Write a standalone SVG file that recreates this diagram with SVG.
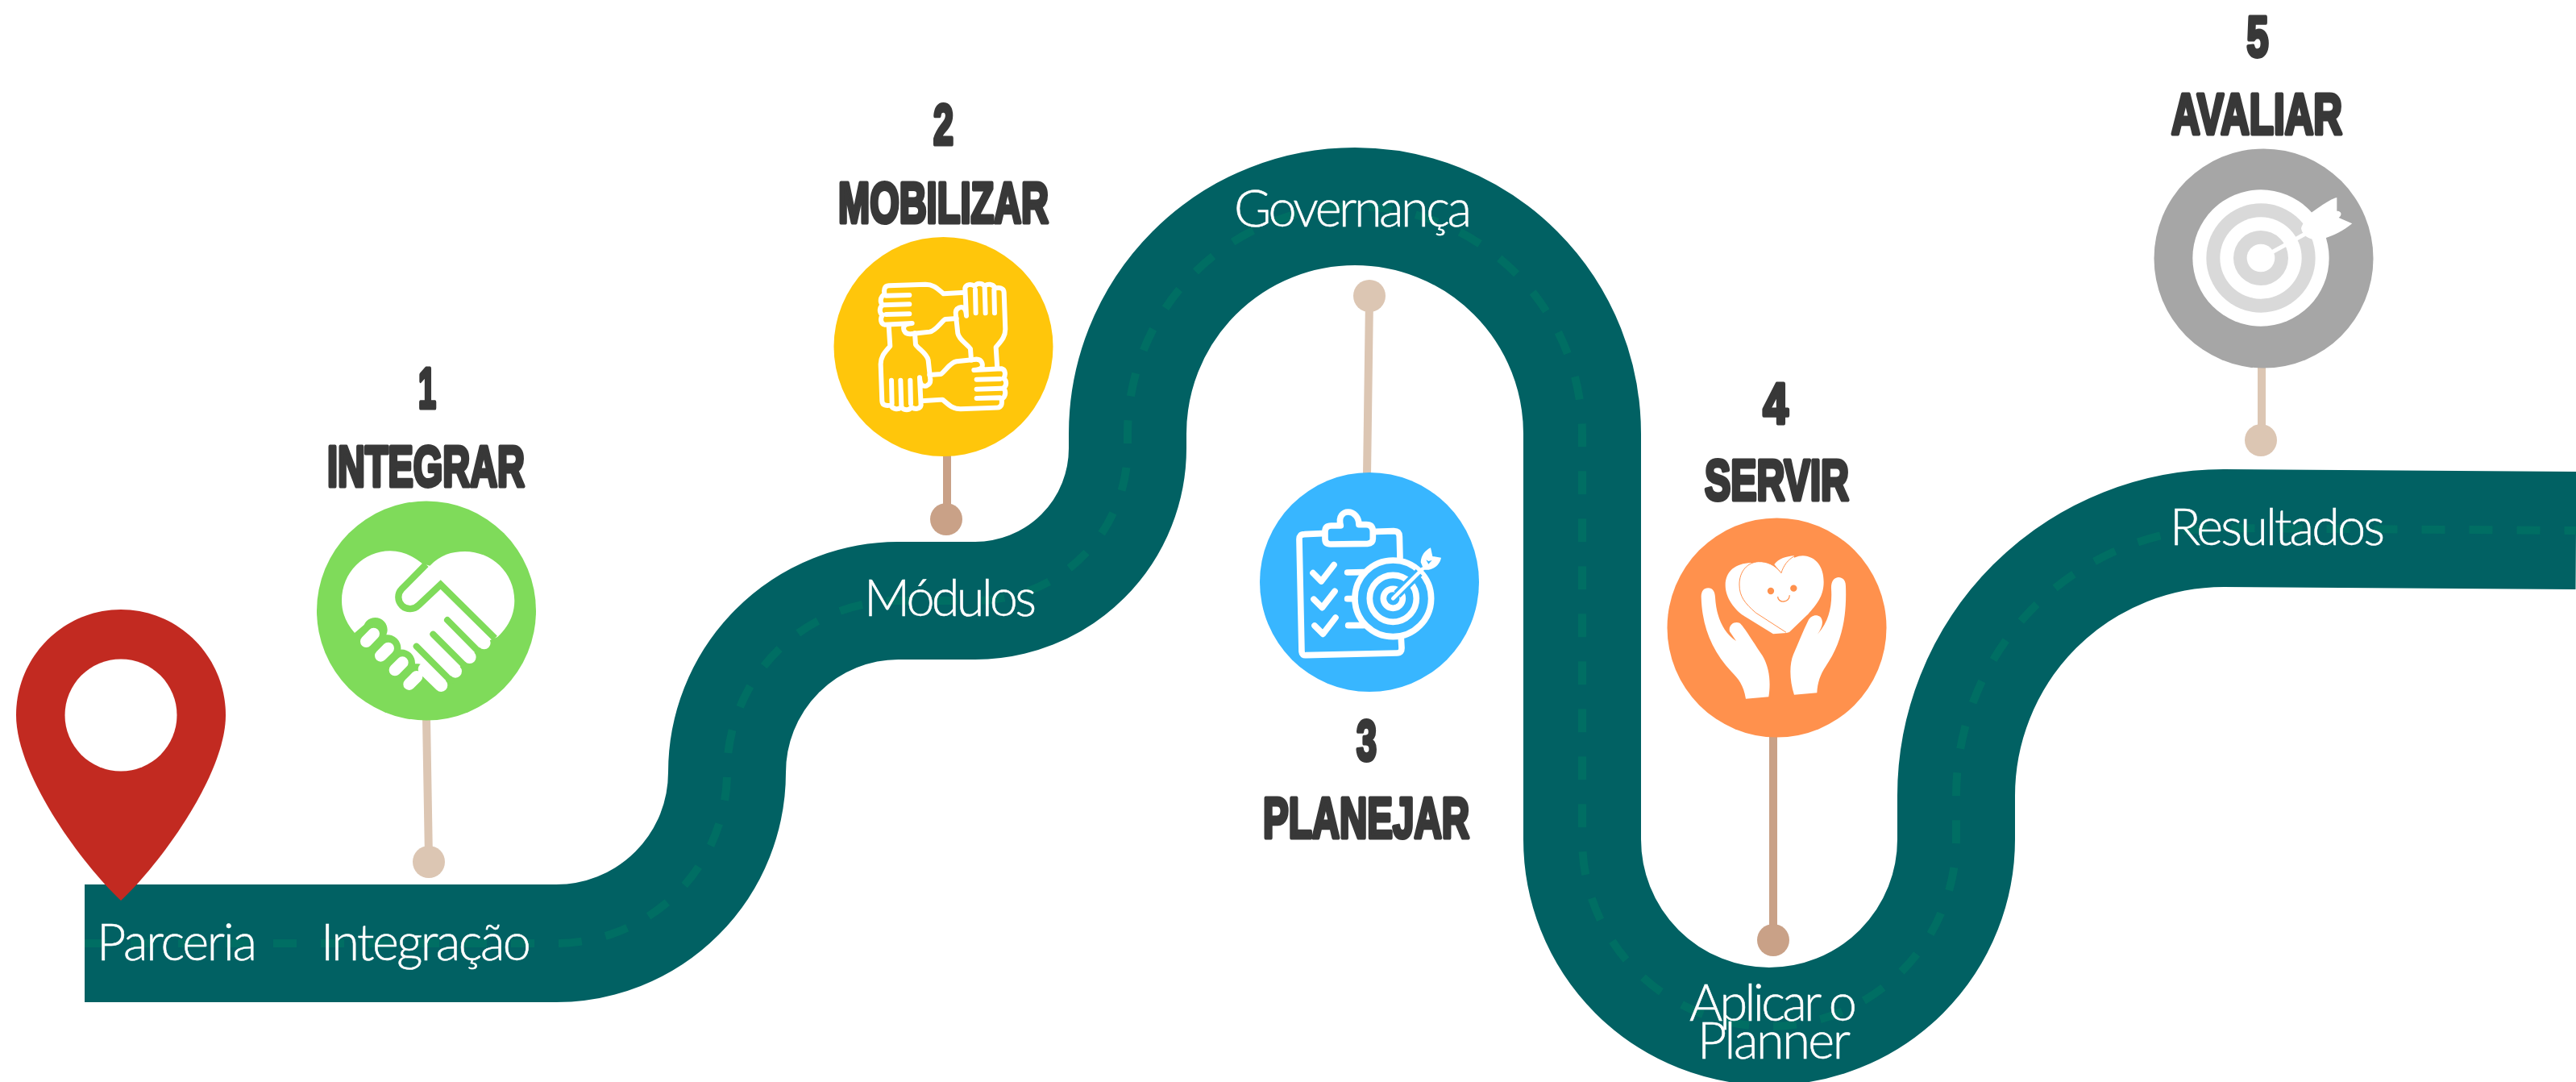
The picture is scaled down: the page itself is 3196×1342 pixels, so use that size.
<svg xmlns="http://www.w3.org/2000/svg" width="3196" height="1342" viewBox="0 0 3196 1342">
<style>
.road{fill:none;stroke:#016163;stroke-width:146}
.dash{fill:none;stroke:#006e63;stroke-width:10;stroke-dasharray:29 30}
.stem{fill:none;stroke-width:10;stroke-linecap:round}
.light{stroke:#dcc6b3}.dark{stroke:#c9a187}
.num,.ttl{font-family:"Liberation Sans",Arial,sans-serif;font-weight:700;fill:#383838;stroke:#383838;stroke-width:5;stroke-linejoin:round;text-anchor:middle;font-size:71px}
.lbl{font-family:Lato,"Open Sans",sans-serif;font-weight:300;font-size:63px;fill:#fff;stroke:#fff;stroke-width:0.5}
.ws{fill:none;stroke:#fff;stroke-linecap:round;stroke-linejoin:round}
.wf{fill:#fff}
</style>
<defs>
<path id="hand" class="ws" stroke-width="18" d="M650,788 L572,793 C550,775 535,758 505,758 L368,763 C350,764 350,780 352,795 C335,805 335,825 345,835 C332,845 332,865 345,872 C335,885 338,905 352,908 L455,903 C425,905 420,915 425,930 C430,942 440,945 455,942 L520,935 C545,930 560,900 578,888 L620,885 M445,798 L358,800 M445,832 L350,835 M445,868 L358,870"/>
</defs>
<g id="road">
<path class="road" d="M105,1170 H690 A212,212 0 0 0 902,958 A213,213 0 0 1 1114,745 H1210 A189,189 0 0 0 1399,556 V538 A282,282 0 0 1 1963,538 V1041 A232,232 0 0 0 2427,1041 V987 A332,332 0 0 1 2759,655 L3196,658"/>
<path class="dash" stroke-dashoffset="2" d="M105,1170 H690 A212,212 0 0 0 902,958 A213,213 0 0 1 1114,745 H1210 A189,189 0 0 0 1399,556 V538 A282,282 0 0 1 1963,538 V1041 A232,232 0 0 0 2427,1041 V987 A332,332 0 0 1 2759,655 L3196,658"/>
</g>
<g id="connectors">
<path class="stem light" d="M529,890 L532,1065"/>
<path class="stem dark" d="M1175,560 V640"/>
<path class="stem light" d="M1699,370 L1696,590"/>
<path class="stem dark" d="M2200,910 V1160"/>
<path class="stem light" d="M2806,450 V540"/>
<g fill="#dcc6b3"><circle cx="532" cy="1069" r="20"/><circle cx="1699" cy="367" r="20"/><circle cx="2805" cy="546" r="20"/></g>
<g fill="#c9a187"><circle cx="1174" cy="644" r="20"/><circle cx="2200" cy="1166" r="20"/></g>
</g>
<g id="start-pin">
<path fill="#c22a21" d="M150,1117 C100,1070 20,960 20,887 C20,815 78,756 150,756 C222,756 280,815 280,887 C280,960 200,1070 150,1117 Z"/>
<circle cx="150" cy="887" r="69.500" fill="#fff"/>
</g>
<g id="node-integrar">
<circle cx="529" cy="757.500" r="136" fill="#7fdb5a"/>
<g transform="translate(360,600) scale(0.3333)">
<path class="wf" d="M240,555 C205,515 192,475 192,435 C192,330 275,250 372,250 C420,250 460,270 492,297 L520,305 C560,265 600,252 650,252 C750,252 835,330 835,435 C835,490 810,535 772,570 L722,592 L562,750 L518,738 A50,50 0 0 0 465,670 A50,50 0 0 0 412,617 A50,50 0 0 0 358,562 A45,45 0 0 0 275,525 Z"/>
<g class="ws" stroke-width="48"><path d="M600,470 L722,592"/><path d="M545,522 L668,645"/><path d="M490,575 L615,698"/><path d="M500,690 L562,750"/></g>
<path fill="none" stroke="#7fdb5a" stroke-width="25" d="M506,300 L415,392 A42,42 0 0 0 478,452 L560,375 L762,575"/>
<g fill="none" stroke="#7fdb5a" stroke-width="24" stroke-linecap="round"><path d="M585,507 L705,628"/><path d="M532,560 L652,680"/><path d="M470,605 L598,733"/></g>
<g class="ws" stroke-width="44"><path d="M283,587 L311,558"/><path d="M337,640 L365,612"/><path d="M390,693 L418,665"/><path d="M443,746 L471,718"/></g>
</g>
</g>
<g id="node-mobilizar">
<circle cx="1170.500" cy="430" r="136" fill="#ffc60b"/>
<g transform="translate(980,100) scale(0.3333)">
<use href="#hand"/>
<use href="#hand" transform="rotate(90 570 990)"/>
<use href="#hand" transform="rotate(180 570 990)"/>
<use href="#hand" transform="rotate(270 570 990)"/>
</g>
</g>
<g id="node-planejar">
<circle cx="1699" cy="722" r="136" fill="#38b6ff"/>
<g transform="translate(1520,560) scale(0.3333)">
<g class="ws" stroke-width="23">
<path d="M362,305 L295,308 Q275,308 276,328 L285,745 Q286,760 302,758 L640,750 Q658,750 657,730 L655,695"/>
<path d="M560,298 L628,296 Q648,296 649,316 L651,395"/>
<path d="M430,276 C420,240 440,225 458,225 C480,225 498,245 498,272 L525,272 Q550,272 550,298 L550,325 Q550,342 530,343 L392,345 Q372,345 372,325 L372,298 Q372,276 395,276 Z"/>
<path d="M327,452 L358,483 L405,422"/><path d="M330,550 L361,581 L408,520"/><path d="M333,648 L364,679 L411,618"/>
<path d="M455,450 L520,449"/><path d="M455,548 L478,548"/><path d="M458,647 L515,647"/>
<circle cx="625" cy="547" r="142"/><circle cx="625" cy="547" r="87"/><circle cx="625" cy="547" r="36"/>
</g>
<path fill="none" stroke="#38b6ff" stroke-width="34" d="M640,532 L722,450"/>
<path fill="none" stroke="#fff" stroke-width="14" stroke-linecap="round" d="M625,547 L735,437"/>
<path class="wf" d="M728,412 C730,385 745,368 765,358 L772,390 L804,395 C800,420 775,445 740,440 Z"/>
<path fill="#38b6ff" d="M748,403 L757,408 L770,405 L757,419 Z"/>
</g>
</g>
<g id="node-servir">
<circle cx="2204.500" cy="778.500" r="136" fill="#ff914d"/>
<g transform="translate(2040,620) scale(0.3333)">
<path class="wf" d="M212,360 C212,340 222,328 238,328 C255,328 263,342 264,362 C268,430 290,490 342,525 L318,490 C312,465 335,450 355,458 C365,465 385,495 440,580 C470,630 470,690 463,733 L378,740 C370,690 350,665 325,640 C250,560 215,470 212,360 Z"/>
<path class="wf" d="M750,320 C750,300 740,288 722,288 C705,290 695,305 696,330 C700,390 690,450 645,500 C665,470 668,450 655,435 C640,425 620,430 610,450 C590,490 575,530 555,575 C540,610 540,670 558,725 L643,718 C645,680 655,650 675,620 C730,540 755,450 750,320 Z"/>
<path class="wf" d="M398,234 C340,236 302,265 302,318 C302,370 345,420 385,440 L480,499 L530,495 L510,272 L484,240 C500,218 530,210 558,208 L560,300 Z"/>
<path class="wf" d="M510,272 C485,240 455,229 425,230 C385,232 354,265 354,315 C354,360 375,385 415,420 L530,495 L540,492 L610,425 C640,390 668,360 668,305 C668,250 640,210 590,208 C550,210 520,235 510,272 Z"/>
<path fill="none" stroke="#ff914d" stroke-width="3" d="M528,493 L415,420 C375,385 354,360 354,315 C354,265 385,232 425,230 C455,229 485,240 510,272 C518,245 535,222 558,210"/>
<circle cx="471" cy="339" r="12.500" fill="#ff914d"/><circle cx="556" cy="329" r="12.500" fill="#ff914d"/>
<path fill="none" stroke="#ff914d" stroke-width="4" d="M497,360 C497,385 540,385 541,355"/>
</g>
</g>
<g id="node-avaliar">
<circle cx="2808.500" cy="320.500" r="136" fill="#a6a6a6"/>
<g transform="translate(2640,0) scale(0.3333)">
<circle cx="495" cy="960" r="254" fill="#fff"/><circle cx="495" cy="960" r="203" fill="#d9d9d9"/><circle cx="495" cy="960" r="152" fill="#fff"/><circle cx="495" cy="960" r="102" fill="#d9d9d9"/><circle cx="495" cy="960" r="52" fill="#fff"/>
<path fill="none" stroke="#fff" stroke-width="15" d="M530,942 L670,865"/>
<path class="wf" d="M645,850 C650,830 670,810 685,790 C720,765 755,740 778,735 L778,785 C800,785 795,805 785,810 L835,832 C800,860 770,875 738,885 L690,890 C680,890 650,880 645,850 Z"/>
</g>
</g>
<g id="titles">
<text class="num" x="530" y="506" textLength="22" lengthAdjust="spacingAndGlyphs">1</text>
<text class="ttl" x="528.500" y="603" textLength="245" lengthAdjust="spacingAndGlyphs">INTEGRAR</text>
<text class="num" x="1170.500" y="179" textLength="25" lengthAdjust="spacingAndGlyphs">2</text>
<text class="ttl" x="1170.500" y="276" textLength="261" lengthAdjust="spacingAndGlyphs">MOBILIZAR</text>
<text class="num" x="1695.500" y="943" textLength="25" lengthAdjust="spacingAndGlyphs">3</text>
<text class="ttl" x="1695" y="1039" textLength="256" lengthAdjust="spacingAndGlyphs">PLANEJAR</text>
<text class="num" x="2203" y="525" textLength="31" lengthAdjust="spacingAndGlyphs">4</text>
<text class="ttl" x="2204.500" y="620" textLength="179" lengthAdjust="spacingAndGlyphs">SERVIR</text>
<text class="num" x="2801" y="70" textLength="27" lengthAdjust="spacingAndGlyphs">5</text>
<text class="ttl" x="2800" y="166" textLength="212" lengthAdjust="spacingAndGlyphs">AVALIAR</text>
</g>
<g id="labels">
<text class="lbl" x="120" y="1191" textLength="199">Parceria</text>
<text class="lbl" x="398" y="1191" textLength="261">Integração</text>
<text class="lbl" x="1072" y="764" textLength="214">Módulos</text>
<text class="lbl" x="1531" y="281" textLength="295">Governança</text>
<text class="lbl" x="2096" y="1266" textLength="208">Aplicar o</text>
<text class="lbl" x="2106" y="1313" textLength="190">Planner</text>
<text class="lbl" x="2692" y="676" textLength="267">Resultados</text>
</g>
</svg>
